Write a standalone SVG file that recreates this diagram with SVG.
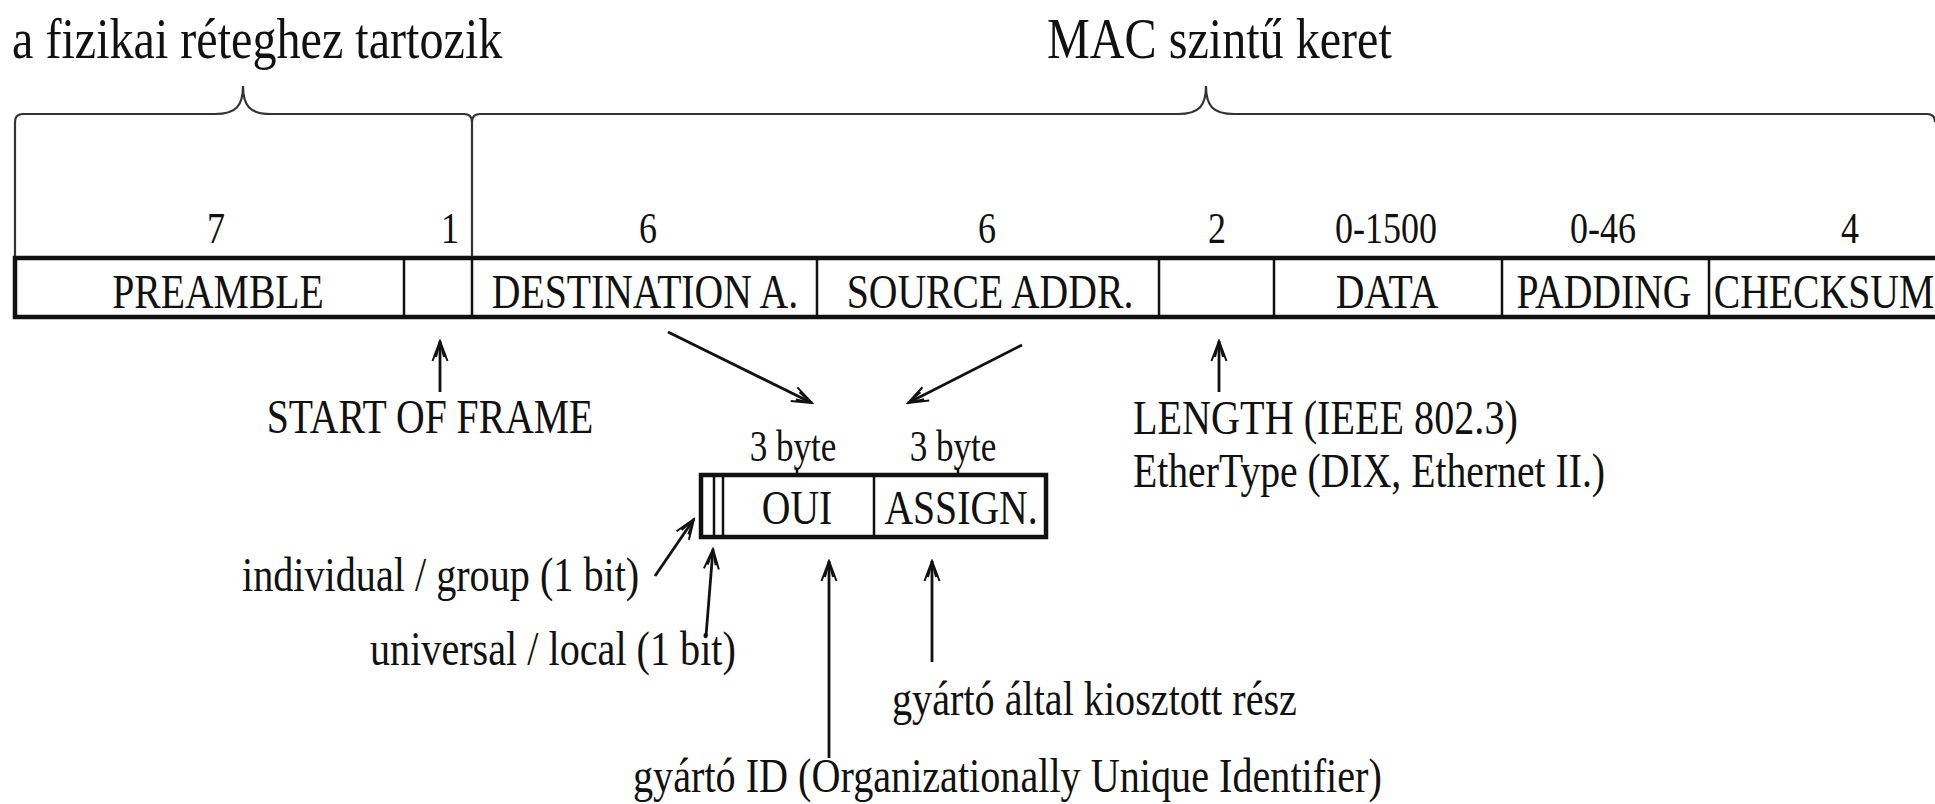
<svg xmlns="http://www.w3.org/2000/svg" width="1935" height="804" viewBox="0 0 1935 804">
<style>
.t{font-family:"Liberation Serif","Times New Roman",serif;fill:#111}
.title{font-size:58px}
.num{font-size:45px}
.lab{font-size:49px}
.box{fill:none;stroke:#111;stroke-width:4.5}
.dv{stroke:#111;stroke-width:2.5;fill:none}
.brace{fill:none;stroke:#333;stroke-width:2.2}
.arr{stroke:#111;stroke-width:2.8;fill:none;marker-end:url(#ah)}
</style>
<defs>
<marker id="ah" markerUnits="userSpaceOnUse" markerWidth="26" markerHeight="20" viewBox="0 0 26 20" refX="24" refY="10" orient="auto">
<path d="M4,2.5 L24,10 L4,17.5 M8,6 L24,10 L8,14" fill="none" stroke="#111" stroke-width="2"/>
</marker>
</defs>
<rect width="1935" height="804" fill="#fff"/>

<g id="titles" class="t title">
<text transform="translate(12 58) scale(0.83 1)">a fizikai réteghez tartozik</text>
<text transform="translate(1047 58) scale(0.83 1)">MAC szintű keret</text>
</g>

<g id="braces">
<path class="brace" d="M15,258 L15,122 Q15,114 23,114 L215,114 C236,114 243,106 243,86 C243,106 250,114 271,114 L464,114 Q472,114 472,122 L472,258"/>
<path class="brace" d="M472,122 Q472,114 480,114 L1178,114 C1199,114 1206,106 1206,86 C1206,106 1213,114 1234,114 L1927,114 Q1935,114 1935,122"/>
</g>

<g id="frame">
<rect class="box" x="15" y="258" width="1940" height="59"/>
<path class="dv" d="M404,258V317M472,258V317M817,258V317M1159,258V317M1274,258V317M1502,258V317M1709,258V317"/>
<g class="t num" text-anchor="middle">
<text transform="translate(216 243) scale(0.8 1)">7</text>
<text transform="translate(450 243) scale(0.8 1)">1</text>
<text transform="translate(648 243) scale(0.8 1)">6</text>
<text transform="translate(987 243) scale(0.8 1)">6</text>
<text transform="translate(1217 243) scale(0.8 1)">2</text>
<text transform="translate(1386 243) scale(0.8 1)">0-1500</text>
<text transform="translate(1603 243) scale(0.8 1)">0-46</text>
<text transform="translate(1850 243) scale(0.8 1)">4</text>
</g>
<g class="t lab" text-anchor="middle">
<text transform="translate(218 308) scale(0.81 1)">PREAMBLE</text>
<text transform="translate(645 308) scale(0.81 1)">DESTINATION A.</text>
<text transform="translate(990 308) scale(0.81 1)">SOURCE ADDR.</text>
<text transform="translate(1387 308) scale(0.81 1)">DATA</text>
<text transform="translate(1604 308) scale(0.81 1)">PADDING</text>
<text transform="translate(1824 308) scale(0.81 1)">CHECKSUM</text>
</g>
</g>

<g id="address">
<g class="t num" text-anchor="middle">
<text transform="translate(793 461) scale(0.78 1)">3 byte</text>
<text transform="translate(953 461) scale(0.78 1)">3 byte</text>
</g>
<path class="dv" d="M797,469V475M958,469V475"/>
<rect class="box" x="701" y="475" width="345" height="62"/>
<path class="dv" d="M714,475V537M723,475V537M874,475V537"/>
<g class="t lab" text-anchor="middle">
<text transform="translate(797 524) scale(0.81 1)">OUI</text>
<text transform="translate(961 524) scale(0.81 1)">ASSIGN.</text>
</g>
</g>

<g id="labels" class="t lab">
<text transform="translate(430 433) scale(0.81 1)" text-anchor="middle">START OF FRAME</text>
<text transform="translate(1133 434) scale(0.82 1)">LENGTH (IEEE 802.3)</text>
<text transform="translate(1133 487) scale(0.81 1)">EtherType (DIX, Ethernet II.)</text>
<text transform="translate(242 591) scale(0.82 1)">individual / group (1 bit)</text>
<text transform="translate(370 665) scale(0.82 1)">universal / local (1 bit)</text>
<text transform="translate(892 715) scale(0.82 1)">gyártó által kiosztott rész</text>
<text transform="translate(633 792) scale(0.82 1)">gyártó ID (Organizationally Unique Identifier)</text>
</g>

<g id="connectors">
<path class="arr" d="M440,392V341"/>
<path class="arr" d="M1219,392V341"/>
<path class="arr" d="M668,332L812,403"/>
<path class="arr" d="M1022,345L908,403"/>
<path class="arr" d="M655,576L694,519"/>
<path class="arr" d="M706,636L713,549"/>
<path class="arr" d="M829,758V561"/>
<path class="arr" d="M932,662V561"/>
</g>
</svg>
